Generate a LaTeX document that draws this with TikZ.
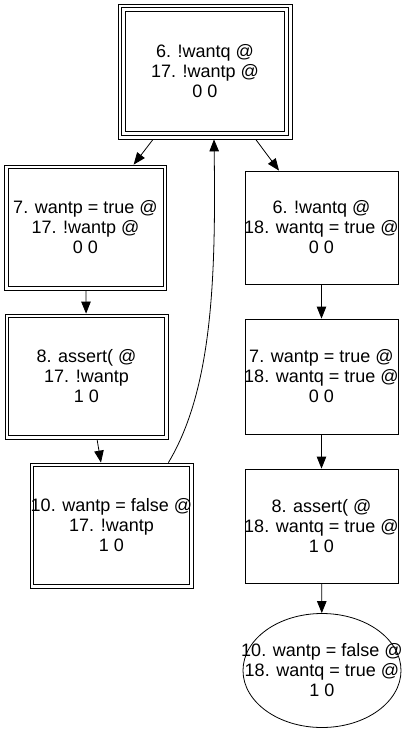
\documentclass[tikz,border=0pt]{standalone}
\usepackage{fontspec}
\setmainfont{Liberation Sans}
\usetikzlibrary{arrows.meta,shapes.geometric}
\newcommand{\cl}[1]{\makebox[0pt][c]{#1}}
\begin{document}
\begin{tikzpicture}[x=1pt,y=-1pt,
  box/.style={draw, line width=0.8pt, rectangle, inner sep=0pt, align=center, font=\fontsize{18}{20}\selectfont},
  ellbox/.style={draw, line width=0.8pt, ellipse, inner sep=0pt, align=center, font=\fontsize{18}{20}\selectfont},
  edge/.style={line width=0.8pt, -{Triangle[length=12pt,width=9.5pt]}},
  inner/.style={line width=0.8pt}]
\useasboundingbox (0,0) rectangle (403,733);
% left column / top
\node[box, minimum width=174pt, minimum height=135pt] (t) at (205,71.5) {\cl{6. !wantq @}\\\cl{17. !wantp @}\\\cl{0 0}};
\draw[inner] ([xshift=4pt,yshift=-4pt]t.north west) rectangle ([xshift=-4pt,yshift=4pt]t.south east);
\draw[inner] ([xshift=8pt,yshift=-8pt]t.north west) rectangle ([xshift=-8pt,yshift=8pt]t.south east);

\node[box, minimum width=162pt, minimum height=125pt] (a) at (85.5,227.5) {\cl{7. wantp = true @}\\\cl{17. !wantp @}\\\cl{0 0}};
\draw[inner] ([xshift=4pt,yshift=-4pt]a.north west) rectangle ([xshift=-4pt,yshift=4pt]a.south east);

\node[box, minimum width=163pt, minimum height=125pt] (b) at (86.5,376.5) {\cl{8. assert( @}\\\cl{17. !wantp}\\\cl{1 0}};
\draw[inner] ([xshift=4pt,yshift=-4pt]b.north west) rectangle ([xshift=-4pt,yshift=4pt]b.south east);

\node[box, minimum width=163pt, minimum height=125pt] (c) at (111.5,525.5) {\cl{10. wantp = false @}\\\cl{17. !wantp}\\\cl{1 0}};
\draw[inner] ([xshift=4pt,yshift=-4pt]c.north west) rectangle ([xshift=-4pt,yshift=4pt]c.south east);

% right column
\node[box, minimum width=153pt, minimum height=113pt] (r1) at (321.5,227.5) {\cl{6. !wantq @}\\\cl{18. wantq = true @}\\\cl{0 0}};
\node[box, minimum width=153pt, minimum height=115pt] (r2) at (321.5,376.5) {\cl{7. wantp = true @}\\\cl{18. wantq = true @}\\\cl{0 0}};
\node[box, minimum width=153pt, minimum height=114pt] (r3) at (321.5,526) {\cl{8. assert( @}\\\cl{18. wantq = true @}\\\cl{1 0}};
\node[ellbox, minimum width=158pt, minimum height=114pt] (e) at (322,670.5) {\cl{10. wantp = false @}\\\cl{18. wantq = true @}\\\cl{1 0}};

% edges
\draw[edge] (t) -- (a);
\draw[edge] (t) -- (r1);
\draw[edge] (a) -- (b);
\draw[edge] (b) -- (c);
\draw[edge] (r1) -- (r2);
\draw[edge] (r2) -- (r3);
\draw[edge] (r3) -- (e);
\coordinate (cs) at ([xshift=-25pt]c.north east);
\coordinate (te) at ([xshift=9pt]t.south);
\draw[edge] (cs) .. controls (212,390) and (216,280) .. (te);
\end{tikzpicture}
\end{document}
